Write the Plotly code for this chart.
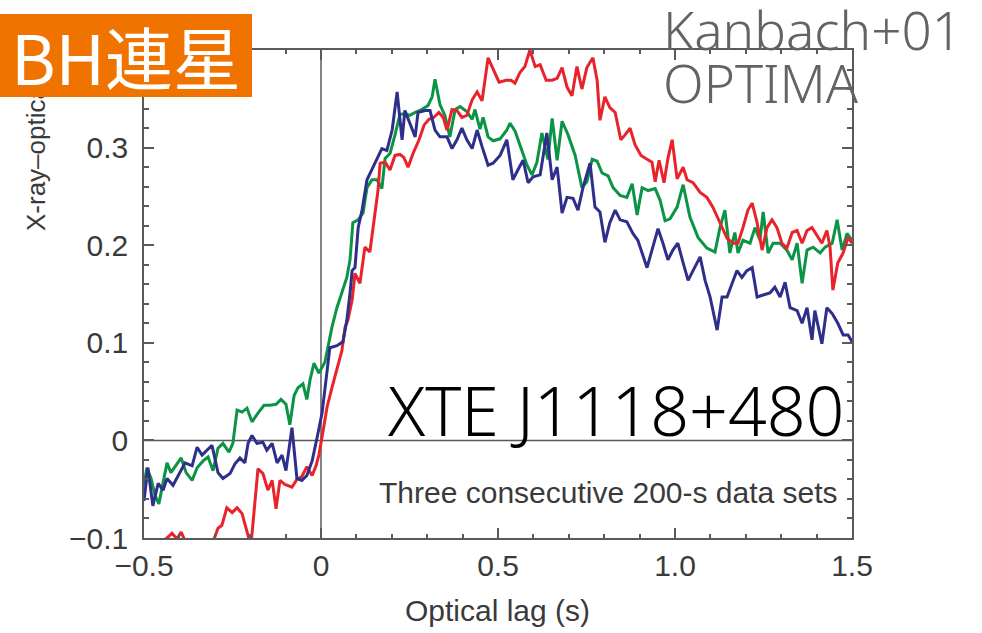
import plotly.graph_objects as go

# Cross-correlation of X-ray and optical light curves, XTE J1118+480,
# three consecutive 200-s data sets (lag in seconds).

lag_blue = [-0.500, -0.489, -0.475, -0.460, -0.446, -0.435, -0.418, -0.398, -0.384, -0.364,
            -0.350, -0.336, -0.322, -0.308, -0.291, -0.277, -0.257, -0.243, -0.229, -0.215,
            -0.206, -0.195, -0.181, -0.164, -0.153, -0.138, -0.124, -0.110, -0.099, -0.088,
            -0.082, -0.068, -0.054, -0.040, -0.025, -0.011, 0.003, 0.025, 0.045, 0.062,
            0.073, 0.082, 0.088, 0.096, 0.105, 0.116, 0.130, 0.147, 0.172, 0.186,
            0.201, 0.215, 0.229, 0.237, 0.251, 0.266, 0.274, 0.294, 0.308, 0.322,
            0.336, 0.356, 0.370, 0.384, 0.398, 0.412, 0.427, 0.441, 0.455, 0.472,
            0.486, 0.506, 0.525, 0.542, 0.556, 0.571, 0.585, 0.599, 0.619, 0.638,
            0.653, 0.667, 0.681, 0.695, 0.712, 0.726, 0.740, 0.760, 0.774, 0.788,
            0.802, 0.816, 0.831, 0.845, 0.864, 0.881, 0.895, 0.921, 0.935, 0.952,
            0.966, 0.980, 0.994, 1.008, 1.023, 1.037, 1.051, 1.071, 1.085, 1.099,
            1.119, 1.133, 1.147, 1.161, 1.175, 1.189, 1.203, 1.218, 1.232, 1.249,
            1.268, 1.282, 1.297, 1.311, 1.325, 1.345, 1.359, 1.373, 1.387, 1.395,
            1.415, 1.429, 1.444, 1.460, 1.475, 1.489, 1.500]
ccf_blue = [-0.062, -0.028, -0.067, -0.044, -0.051, -0.039, -0.046, -0.033, -0.023, -0.026,
            -0.007, -0.015, -0.010, -0.005, -0.033, -0.039, -0.034, -0.024, -0.018, -0.023,
            -0.003, 0.005, -0.003, -0.002, -0.010, -0.003, -0.023, -0.015, -0.031, -0.003,
            0.013, -0.039, -0.041, -0.036, -0.021, 0.003, 0.028, 0.095, 0.097, 0.101,
            0.123, 0.151, 0.174, 0.177, 0.218, 0.236, 0.267, 0.280, 0.299, 0.297,
            0.318, 0.357, 0.308, 0.338, 0.325, 0.311, 0.336, 0.338, 0.338, 0.318,
            0.311, 0.311, 0.299, 0.308, 0.320, 0.308, 0.299, 0.318, 0.301, 0.282,
            0.284, 0.292, 0.308, 0.267, 0.277, 0.287, 0.264, 0.270, 0.272, 0.315,
            0.267, 0.280, 0.233, 0.249, 0.248, 0.236, 0.259, 0.284, 0.239, 0.234,
            0.203, 0.223, 0.236, 0.226, 0.224, 0.212, 0.205, 0.177, 0.195, 0.217,
            0.202, 0.185, 0.195, 0.202, 0.182, 0.164, 0.174, 0.188, 0.164, 0.147,
            0.113, 0.147, 0.147, 0.161, 0.174, 0.167, 0.174, 0.177, 0.147, 0.149,
            0.151, 0.157, 0.147, 0.162, 0.136, 0.133, 0.120, 0.136, 0.103, 0.133,
            0.099, 0.136, 0.130, 0.120, 0.108, 0.108, 0.101]

lag_green = [-0.500, -0.492, -0.480, -0.469, -0.458, -0.446, -0.435, -0.424, -0.410, -0.395,
             -0.381, -0.364, -0.350, -0.333, -0.319, -0.305, -0.291, -0.277, -0.260, -0.249,
             -0.237, -0.223, -0.209, -0.195, -0.178, -0.161, -0.144, -0.127, -0.113, -0.099,
             -0.088, -0.076, -0.065, -0.051, -0.040, -0.031, -0.020, -0.006, 0.011, 0.031,
             0.045, 0.059, 0.073, 0.082, 0.090, 0.105, 0.119, 0.130, 0.144, 0.158,
             0.172, 0.181, 0.195, 0.209, 0.223, 0.237, 0.251, 0.266, 0.280, 0.302,
             0.314, 0.322, 0.336, 0.350, 0.364, 0.379, 0.393, 0.412, 0.427, 0.435,
             0.449, 0.458, 0.472, 0.486, 0.506, 0.525, 0.534, 0.548, 0.562, 0.582,
             0.596, 0.610, 0.624, 0.641, 0.653, 0.667, 0.681, 0.698, 0.718, 0.737,
             0.751, 0.766, 0.780, 0.794, 0.811, 0.825, 0.845, 0.864, 0.879, 0.893,
             0.907, 0.924, 0.944, 0.958, 0.972, 0.986, 1.006, 1.023, 1.042, 1.065,
             1.090, 1.113, 1.127, 1.141, 1.155, 1.169, 1.178, 1.192, 1.212, 1.226,
             1.240, 1.249, 1.263, 1.277, 1.297, 1.316, 1.331, 1.345, 1.359, 1.373,
             1.390, 1.410, 1.424, 1.444, 1.458, 1.472, 1.486, 1.500]
ccf_green = [-0.046, -0.028, -0.039, -0.056, -0.065, -0.041, -0.023, -0.033, -0.026, -0.018,
             -0.033, -0.041, -0.028, -0.021, -0.017, -0.031, -0.008, -0.003, -0.012, -0.003,
             0.031, 0.029, 0.033, 0.019, 0.028, 0.036, 0.036, 0.037, 0.042, 0.037,
             0.016, 0.046, 0.054, 0.058, 0.042, 0.062, 0.079, 0.069, 0.080, 0.116,
             0.136, 0.151, 0.167, 0.185, 0.223, 0.226, 0.233, 0.259, 0.267, 0.267,
             0.258, 0.289, 0.294, 0.313, 0.334, 0.335, 0.333, 0.336, 0.338, 0.343,
             0.352, 0.370, 0.344, 0.333, 0.311, 0.339, 0.342, 0.337, 0.329, 0.339,
             0.319, 0.331, 0.311, 0.307, 0.309, 0.318, 0.325, 0.317, 0.303, 0.282,
             0.272, 0.285, 0.315, 0.288, 0.330, 0.287, 0.327, 0.313, 0.292, 0.259,
             0.265, 0.288, 0.286, 0.274, 0.271, 0.259, 0.251, 0.249, 0.263, 0.231,
             0.259, 0.256, 0.258, 0.246, 0.225, 0.227, 0.239, 0.262, 0.229, 0.208,
             0.197, 0.193, 0.218, 0.236, 0.192, 0.213, 0.192, 0.205, 0.202, 0.218,
             0.205, 0.234, 0.192, 0.202, 0.202, 0.195, 0.185, 0.202, 0.161, 0.195,
             0.198, 0.192, 0.198, 0.202, 0.226, 0.195, 0.212, 0.205]

lag_red = [-0.500, -0.483, -0.466, -0.449, -0.432, -0.421, -0.407, -0.395, -0.384, -0.370,
           -0.353, -0.336, -0.319, -0.305, -0.291, -0.280, -0.266, -0.251, -0.237, -0.223,
           -0.209, -0.198, -0.178, -0.164, -0.150, -0.138, -0.127, -0.116, -0.102, -0.082,
           -0.068, -0.054, -0.040, -0.025, -0.014, -0.006, 0.006, 0.017, 0.031, 0.045,
           0.059, 0.068, 0.076, 0.088, 0.096, 0.110, 0.124, 0.138, 0.147, 0.161,
           0.167, 0.181, 0.195, 0.209, 0.223, 0.234, 0.246, 0.260, 0.277, 0.291,
           0.305, 0.319, 0.333, 0.345, 0.356, 0.370, 0.384, 0.398, 0.412, 0.427,
           0.441, 0.455, 0.472, 0.486, 0.503, 0.523, 0.537, 0.548, 0.562, 0.576,
           0.590, 0.605, 0.619, 0.636, 0.653, 0.667, 0.681, 0.695, 0.709, 0.723,
           0.737, 0.751, 0.768, 0.780, 0.788, 0.802, 0.816, 0.831, 0.847, 0.859,
           0.873, 0.887, 0.904, 0.921, 0.935, 0.944, 0.955, 0.969, 0.980, 0.992,
           1.006, 1.023, 1.034, 1.051, 1.071, 1.090, 1.107, 1.127, 1.147, 1.164,
           1.178, 1.192, 1.206, 1.218, 1.232, 1.246, 1.260, 1.274, 1.288, 1.302,
           1.316, 1.331, 1.345, 1.359, 1.373, 1.387, 1.401, 1.415, 1.429, 1.438,
           1.446, 1.460, 1.475, 1.489, 1.500]
ccf_red = [-0.118, -0.111, -0.108, -0.104, -0.099, -0.095, -0.101, -0.094, -0.103, -0.111,
           -0.118, -0.115, -0.111, -0.104, -0.090, -0.087, -0.069, -0.074, -0.069, -0.075,
           -0.094, -0.108, -0.029, -0.034, -0.051, -0.041, -0.070, -0.041, -0.045, -0.048,
           -0.040, -0.037, -0.027, -0.036, -0.026, -0.015, 0.010, 0.034, 0.054, 0.072,
           0.092, 0.116, 0.123, 0.144, 0.171, 0.161, 0.198, 0.193, 0.218, 0.256,
           0.284, 0.285, 0.277, 0.292, 0.293, 0.290, 0.280, 0.294, 0.308, 0.323,
           0.329, 0.331, 0.336, 0.331, 0.318, 0.339, 0.338, 0.331, 0.333, 0.349,
           0.357, 0.348, 0.392, 0.381, 0.367, 0.369, 0.369, 0.366, 0.377, 0.383,
           0.400, 0.383, 0.385, 0.369, 0.369, 0.371, 0.382, 0.362, 0.353, 0.383,
           0.360, 0.382, 0.392, 0.369, 0.328, 0.352, 0.341, 0.336, 0.308, 0.313,
           0.320, 0.303, 0.292, 0.288, 0.285, 0.265, 0.287, 0.264, 0.289, 0.308,
           0.268, 0.280, 0.267, 0.264, 0.254, 0.249, 0.239, 0.223, 0.207, 0.202,
           0.202, 0.218, 0.236, 0.243, 0.223, 0.195, 0.218, 0.226, 0.218, 0.202,
           0.197, 0.213, 0.215, 0.202, 0.215, 0.218, 0.210, 0.202, 0.215, 0.198,
           0.154, 0.182, 0.192, 0.208, 0.202]

x_ticks = [-0.5, 0, 0.5, 1.0, 1.5]
x_ticktext = ["\u22120.5", "0", "0.5", "1.0", "1.5"]
y_ticks = [-0.1, 0, 0.1, 0.2, 0.3]
y_ticktext = ["\u22120.1", "0", "0.1", "0.2", "0.3"]

series = [
    (lag_green, ccf_green, "#0B9446"),
    (lag_red, ccf_red, "#E8232B"),
    (lag_blue, ccf_blue, "#2E2F8A"),
]

AX = "#5a5a5a"
SANS = "Liberation Sans, Arial, sans-serif"
TICKFONT = dict(family=SANS, size=30, color="#3a3a3a")

fig = go.Figure()
for lags, vals, color in series:
    fig.add_trace(go.Scatter(x=lags, y=vals, mode="lines",
                             line=dict(color=color, width=3),
                             hoverinfo="skip", showlegend=False))

axis_common = dict(showgrid=False, zeroline=False, showline=True, linecolor=AX,
                   linewidth=1.5, mirror="ticks", ticks="inside", ticklen=10,
                   tickwidth=1.5, tickcolor=AX, tickfont=TICKFONT)

fig.update_xaxes(range=[-0.5, 1.5], tickmode="array", tickvals=x_ticks,
                 ticktext=x_ticktext,
                 minor=dict(tickmode="linear", tick0=0, dtick=0.1, ticks="inside",
                            ticklen=4, tickwidth=1.5, tickcolor=AX, showgrid=False),
                 **axis_common)
fig.update_yaxes(range=[-0.1, 0.4], tickmode="array", tickvals=y_ticks,
                 ticktext=y_ticktext, ticklabelstandoff=8,
                 minor=dict(tickmode="linear", tick0=0, dtick=0.02, ticks="inside",
                            ticklen=5, tickwidth=1.5, tickcolor=AX, showgrid=False),
                 **axis_common)

# zero reference lines
fig.add_shape(type="line", xref="x", yref="y", x0=-0.5, x1=1.5, y0=0, y1=0,
              line=dict(color=AX, width=1.5), layer="below")
fig.add_shape(type="line", xref="x", yref="y", x0=0, x1=0, y0=-0.1, y1=0.4,
              line=dict(color=AX, width=1.5), layer="below")

W, H = 982, 633
L, R, T, B = 144, 130, 50, 95
pw, ph = W - L - R, H - T - B


def px(x):
    return (x - L) / pw


def py(y):
    return (H - B - y) / ph


LIGHT = "Noto Sans, sans-serif"

annotations = [
    dict(text="Optical lag (s)", x=px(497), y=py(610), xanchor="center", yanchor="middle",
         font=dict(family=SANS, size=30, color="#3a3a3a")),
    dict(text="X-ray\u2013optical CCF", x=px(36), y=py(233), xanchor="center",
         yanchor="bottom", textangle=-90,
         font=dict(family=SANS, size=26, color="#3a3a3a")),
    dict(text="Three consecutive 200-s data sets", x=px(608), y=py(492),
         xanchor="center", yanchor="middle",
         font=dict(family=SANS, size=30, color="#3a3a3a")),
    dict(text="XTE J1118+480", x=px(616), y=py(410), xanchor="center", yanchor="middle",
         font=dict(family=LIGHT, size=68, color="#000000", weight=300)),
    dict(text="Kanbach+01", x=px(661), y=py(29), xanchor="left", yanchor="middle",
         height=50, valign="middle",
         font=dict(family=LIGHT, size=53, color="#636363", weight=300)),
    dict(text="OPTIMA", x=px(661), y=py(82), xanchor="left", yanchor="middle",
         height=50, valign="middle",
         font=dict(family=LIGHT, size=53, color="#636363", weight=300)),
    # orange label box, drawn last so it sits on top of the axis title
    dict(text="BH連星", x=px(0), y=py(14), xanchor="left", yanchor="top",
         width=252, height=83, borderpad=0, borderwidth=0, bgcolor="#F07300",
         align="center", valign="middle",
         font=dict(family="Noto Sans CJK JP, sans-serif", size=68, color="#ffffff")),
]
for a in annotations:
    a.update(xref="paper", yref="paper", showarrow=False)

fig.update_layout(width=W, height=H, autosize=False,
                  margin=dict(l=L, r=R, t=T, b=B, pad=0),
                  paper_bgcolor="white", plot_bgcolor="white",
                  annotations=annotations)

fig.write_html("out.html")
